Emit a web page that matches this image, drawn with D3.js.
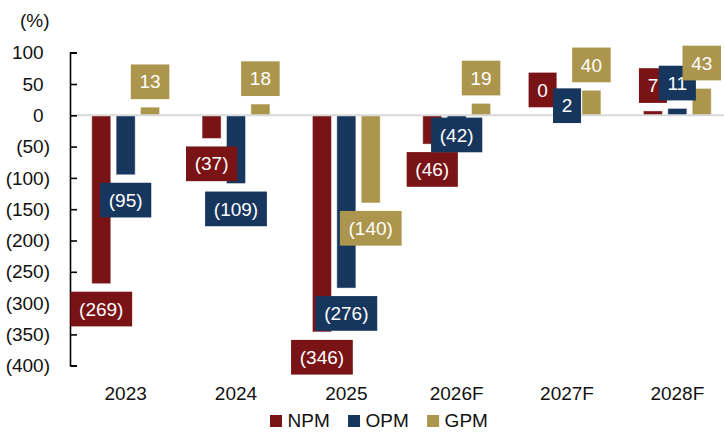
<!DOCTYPE html>
<html><head><meta charset="utf-8">
<script src="https://cdn.jsdelivr.net/npm/d3@7"></script>
<style>
html,body{margin:0;padding:0;background:#fff;}
text{font-family:"Liberation Sans",Arial,sans-serif;}
</style></head>
<body><svg id="c" width="724" height="432"></svg>
<script>
const categories = ["2023","2024","2025","2026F","2027F","2028F"];
const seriesNames = ["NPM","OPM","GPM"];
const npmValues = [-269,-37,-346,-46,0,7];
const opmValues = [-95,-109,-276,-42,2,11];
const gpmValues = [13,18,-140,19,40,43];
const yTickValues = [100,50,0,-50,-100,-150,-200,-250,-300,-350,-400];
const unitLabel = "(%)";

const colors = {NPM:"#7a1315", OPM:"#17365d", GPM:"#ac954c"};
// manual label nudges (layout, px)
const labelNudge = {"2026F|OPM": -32, "2027F|OPM": 17};

const valuesBySeries = {NPM: npmValues, OPM: opmValues, GPM: gpmValues};
const rows = [];
categories.forEach((c,i)=>seriesNames.forEach(s=>rows.push({cat:c, s, v:valuesBySeries[s][i]})));

const svg = d3.select("#c");
const FS = 19;
const y = d3.scaleLinear().domain([-400,100]).range([365.7,52.7]);
const x0 = d3.scaleBand().domain(categories).range([70.5,732.5]);
const x1 = d3.scaleBand().domain(seriesNames).range([-36.6,36.6]).paddingInner(0.22).paddingOuter(0.11);
const fmt = v => v < 0 ? "(" + Math.abs(v) + ")" : String(v);
const cx = d => x0(d.cat) + x0.bandwidth()/2 + x1(d.s) + x1.bandwidth()/2;

// bars
svg.append("g").selectAll("rect").data(rows).join("rect")
  .attr("x", d => cx(d) - x1.bandwidth()/2)
  .attr("width", x1.bandwidth())
  .attr("y", d => y(Math.max(0,d.v)))
  .attr("height", d => Math.abs(y(d.v) - y(0)))
  .attr("fill", d => colors[d.s])
  .attr("stroke", "rgba(255,255,255,0.45)")
  .attr("stroke-width", 1);

// zero line
svg.append("line").attr("x1",71).attr("x2",724).attr("y1",y(0)).attr("y2",y(0))
  .attr("stroke","#d9d9d9").attr("stroke-width",2);

// y axis
const yAxis = d3.axisRight(y).tickValues(yTickValues).tickSize(6.5).tickFormat("");
const ag = svg.append("g").attr("transform","translate(70.5,0)").call(yAxis);
ag.select(".domain").attr("stroke","#000").attr("stroke-width",1.6).attr("d", `M6.5,${y(100)}H0V${y(-400)}H6.5`);
ag.selectAll(".tick line").attr("stroke","#000").attr("stroke-width",1.6);

const tl = svg.append("g").selectAll("text").data(yTickValues).join("text")
  .attr("x",50).attr("y", d => y(d)).attr("dy","0.35em")
  .attr("text-anchor","end").attr("font-size",FS).attr("fill","#111");
tl.append("tspan").text(d => fmt(d));
tl.filter(d => d >= 0).append("tspan").text(")").attr("fill-opacity",0);

svg.append("text").attr("x",20).attr("y",27).attr("font-size",FS).attr("fill","#111").text(unitLabel);

// x labels
svg.append("g").selectAll("text").data(categories).join("text")
  .attr("x", d => x0(d) + x0.bandwidth()/2).attr("y",400)
  .attr("text-anchor","middle").attr("font-size",FS).attr("fill","#111").text(d => d);

// data labels
const lg = svg.append("g");
rows.forEach(d => {
  const g = lg.append("g");
  const t = g.append("text").attr("font-size",FS).attr("fill","#fff").attr("text-anchor","middle").text(fmt(d.v));
  const w = t.node().getComputedTextLength() + 17.4;
  const h = 34.7;
  let top = d.v >= 0 ? y(d.v) - 8 - h : y(d.v) + 8;
  top += (labelNudge[d.cat + "|" + d.s] || 0);
  const x = cx(d);
  g.insert("rect","text").attr("x", x - w/2).attr("y", top).attr("width", w).attr("height", h).attr("fill", colors[d.s]);
  t.attr("x", x).attr("y", top + h/2).attr("dy","0.35em");
});

// legend
const leg = svg.append("g");
let lx = 270;
seriesNames.forEach(s => {
  leg.append("rect").attr("x",lx).attr("y",415).attr("width",12).attr("height",12).attr("fill",colors[s]);
  const t = leg.append("text").attr("x",lx+17.5).attr("y",426.7).attr("font-size",FS).attr("fill","#111").text(s);
  lx = lx + 17.5 + t.node().getComputedTextLength() + 18.3;
});
</script></body></html>
